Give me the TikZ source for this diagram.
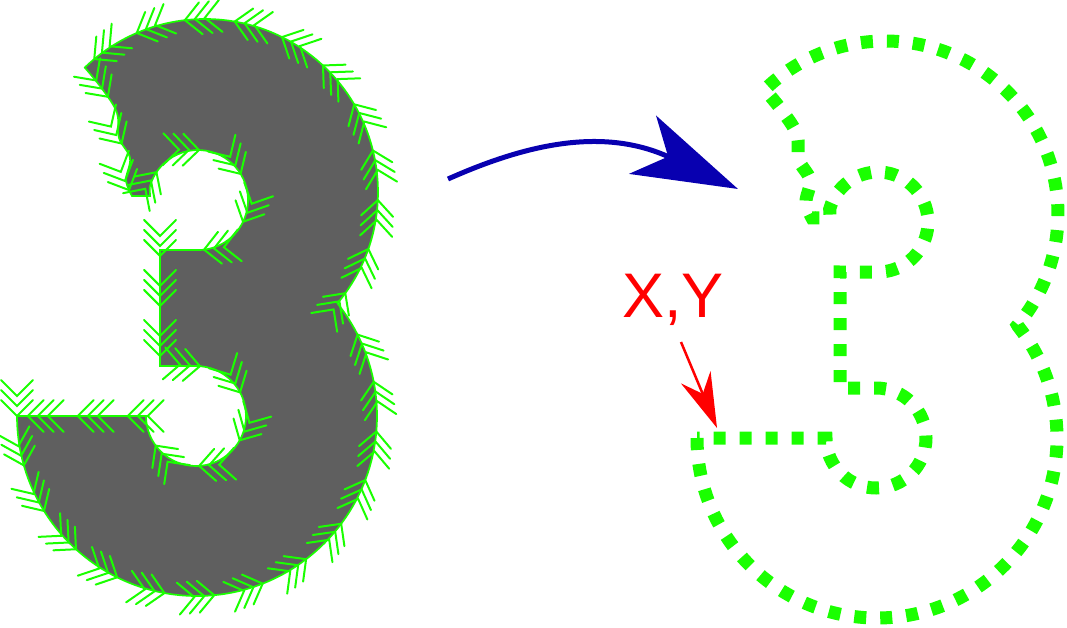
\documentclass[tikz,border=0pt]{standalone}
\usepackage{fontspec}
\setmainfont{Liberation Sans}
\usetikzlibrary{arrows.meta,decorations.markings}
\definecolor{glyphgray}{RGB}{95,95,95}
\definecolor{leafgreen}{RGB}{26,255,0}
\definecolor{arrowblue}{RGB}{8,0,176}
\newcommand\chevmark{%
  \foreach \d in {0,10,20}
    \draw[chevline, xshift=-\d pt] (-16pt,16pt) -- (0pt,0pt) -- (-16pt,-16pt);}
\newcommand\threepath{(17,416) arc[start angle=180, end angle=-38.4, radius=180]
  -- (337.5,303.2) arc[start angle=40, end angle=-134, radius=173]
  -- plot[smooth, tension=0.6] coordinates {(84.8,67.6) (103,90) (117,113) (119,138) (130,158) (126,180) (132,196)}
  -- (150,196) -- (149.7,187.1) arc[start angle=195, end angle=450, radius=50]
  -- (160,250) -- (160,366) -- (196,366) arc[start angle=270, end angle=540, radius=50]
  -- cycle}
\tikzset{
  glyph/.style={fill=glyphgray, draw=leafgreen, line width=1.7pt},
  chevline/.style={draw=leafgreen, line width=2pt, line cap=round},
  chevrons/.style={postaction={decorate, decoration={markings,
    mark=between positions 0 and 1 step 50pt with {\chevmark}}}},
  dotline/.style={draw=leafgreen, line width=13pt, dash pattern=on 12pt off 14pt},
  bigarrow/.style={draw=arrowblue, line width=5pt, -{Stealth[length=105pt, width=64pt, inset=28pt]}},
  pointer/.style={draw=red, line width=2.5pt, -{Stealth[length=55pt, width=32pt, inset=18pt]}},
  xylabel/.style={text=red, inner sep=0pt, font=\fontsize{63}{70}\selectfont}
}

\begin{document}
\begin{tikzpicture}[x=1pt, y=-1pt]
\useasboundingbox (0,0) rectangle (1067,628);
% filled glyph with chevrons
\filldraw[glyph, chevrons] \threepath;
% dotted copy
\begin{scope}[shift={(680,22)}]
\draw[dotline] \threepath;
\end{scope}
% arrows and label
\coordinate (arrowfrom) at (448,179);
\coordinate (arrowto) at (738,189);
\draw[bigarrow] (arrowfrom) .. controls (520,147) and (600,125) .. (arrowto);
\node[xylabel, anchor=base] (xy) at (673,317) {X,Y};
\coordinate (xyfoot) at (681,342);
\coordinate (startpt) at (717,428);
\draw[pointer] (xyfoot) -- (startpt);
\end{tikzpicture}
\end{document}
